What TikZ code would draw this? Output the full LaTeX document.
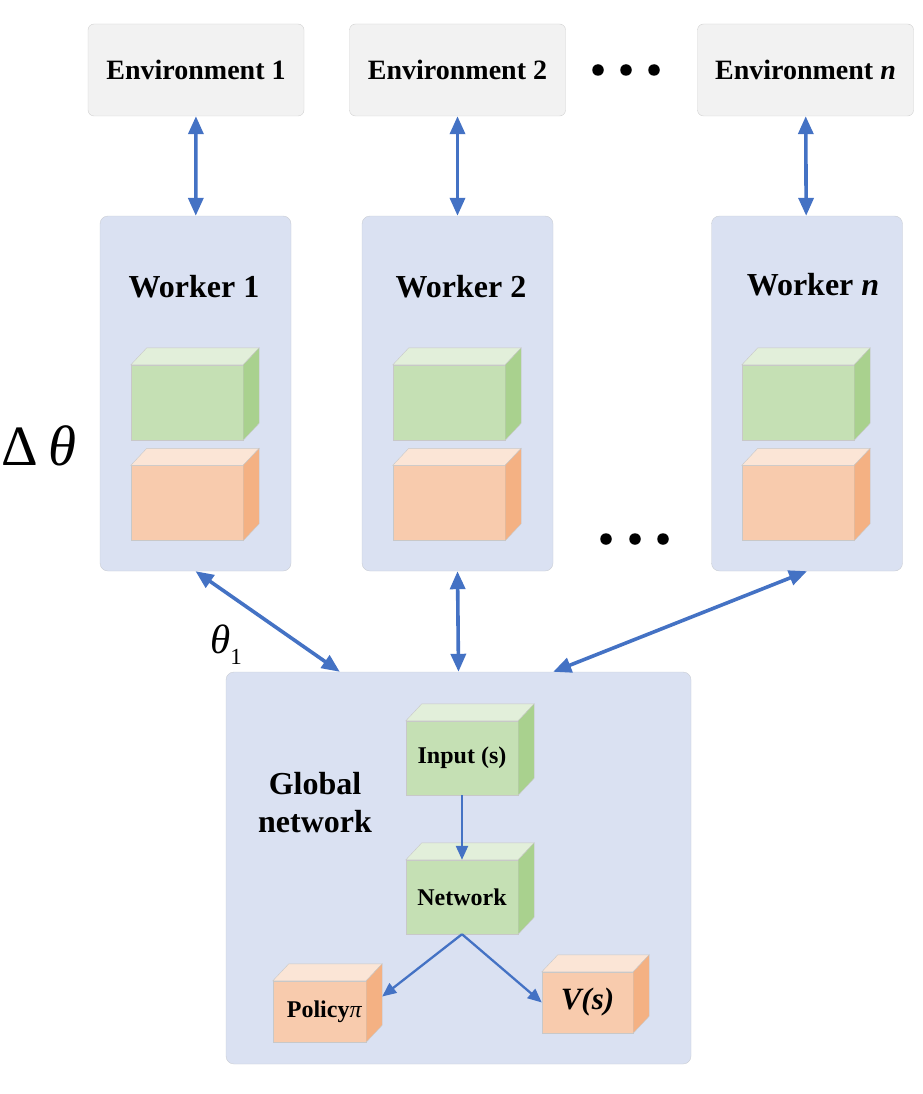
\documentclass[tikz,border=0pt]{standalone}
\usepackage{fontspec}
\setmainfont{Liberation Serif}
\usetikzlibrary{arrows.meta}
\definecolor{workblue}{HTML}{DAE1F2}
\definecolor{workedge}{HTML}{C9CDD4}
\definecolor{envgray}{HTML}{F2F2F2}
\definecolor{envedge}{HTML}{D0D0D0}
\definecolor{cubeedge}{HTML}{C8C8C8}
\definecolor{greenfront}{HTML}{C5E0B4}
\definecolor{greentop}{HTML}{E2EFDA}
\definecolor{greenside}{HTML}{A9D18E}
\definecolor{orangefront}{HTML}{F8CBAD}
\definecolor{orangetop}{HTML}{FBE5D6}
\definecolor{orangeside}{HTML}{F4B183}
\definecolor{arrowblue}{HTML}{4472C4}
\newcommand{\cubefaces}[3]{%
  \filldraw[draw=cubeedge, fill=#2] (#1.north west) -- ([shift={(16,-17)}]#1.north west)
    -- ([shift={(16,-17)}]#1.north east) -- (#1.north east) -- cycle;
  \filldraw[draw=cubeedge, fill=#3] (#1.north east) -- ([shift={(16,-17)}]#1.north east)
    -- ([shift={(16,-17)}]#1.south east) -- (#1.south east) -- cycle;
}
\begin{document}
\begin{tikzpicture}[x=1pt, y=-1pt,
  env/.style={draw=envedge, fill=envgray, rounded corners=6pt, minimum width=216pt, minimum height=92pt,
    font=\bfseries\fontsize{28}{32}\selectfont},
  worker/.style={draw=workedge, fill=workblue, rounded corners=8pt, minimum width=191pt, minimum height=355pt},
  title/.style={font=\bfseries\fontsize{32}{38}\selectfont, align=center},
  greencube/.style={draw=cubeedge, fill=greenfront, minimum width=112pt, minimum height=75pt, inner sep=0pt,
    font=\bfseries\fontsize{24}{28}\selectfont},
  orangecube/.style={draw=cubeedge, fill=orangefront, minimum width=112pt, minimum height=75pt, inner sep=0pt,
    font=\bfseries\fontsize{24}{28}\selectfont},
  dot/.style={circle, fill=black, inner sep=0pt, minimum size=11.5pt},
  link/.style={draw=arrowblue, line width=3.6pt, {Triangle[length=18pt,width=15pt]}-{Triangle[length=18pt,width=15pt]}},
  flow/.style={draw=arrowblue, line width=2.3pt, -{Triangle[length=14pt,width=12pt]}}]
  \useasboundingbox (0,0) rectangle (922,1094);

  \node[env] (env1) at (196,70) {Environment 1};
  \node[env] (env2) at (457.5,70) {Environment 2};
  \node[env] (envn) at (805.5,70) {Environment \textit{n}};
  \foreach \i/\x in {1/598,2/626,3/654} \node[dot] (topdot\i) at (\x,70) {};

  \node[worker] (w1) at (195.5,393.5) {};
  \node[worker] (w2) at (457.5,393.5) {};
  \node[worker] (wn) at (807,393.5) {};
  \node[title] (w1label) at (194,287) {Worker 1};
  \node[title] (w2label) at (461,287) {Worker 2};
  \node[title] (wnlabel) at (813,285) {Worker \textit{n}};
  \foreach \i/\x in {1/606,2/635,3/663} \node[dot] (middot\i) at (\x,539) {};

  \node[greencube] (g1) at (187,402.5) {};
  \node[orangecube] (o1) at (187,503) {};
  \node[greencube] (g2) at (449,402.5) {};
  \node[orangecube] (o2) at (449,503) {};
  \node[greencube] (gn) at (798,402.5) {};
  \node[orangecube] (on) at (798,503) {};
  \cubefaces{g1}{greentop}{greenside}
  \cubefaces{o1}{orangetop}{orangeside}
  \cubefaces{g2}{greentop}{greenside}
  \cubefaces{o2}{orangetop}{orangeside}
  \cubefaces{gn}{greentop}{greenside}
  \cubefaces{on}{orangetop}{orangeside}

  \node[font=\fontsize{57}{60}\selectfont] (delta) at (39,446) {Δ\,\textit{θ}};
  \node[font=\fontsize{41}{44}\selectfont, inner sep=0pt] (theta1) at (226,645)
    {\textit{θ}\raisebox{-11pt}{\fontsize{23}{23}\selectfont 1}};

  \node[worker, minimum width=465pt, minimum height=392pt] (glob) at (458.5,868) {};
  \node[title] (globlabel) at (315,803) {Global\\network};
  \node[greencube, minimum height=74pt] (input) at (462,758) {Input (s)};
  \node[greencube, minimum height=74pt] (net) at (462,897) {Network};
  \node[orangecube, minimum width=93pt, minimum height=61pt] (policy) at (319.5,1011.5)
    {\hspace{10pt}Policy\textmd{\textit{π}}};
  \node[orangecube, minimum width=91pt, minimum height=61pt, font=\bfseries\itshape\fontsize{31}{34}\selectfont]
    (value) at (587.5,1002.5) {V(s)};
  \cubefaces{input}{greentop}{greenside}
  \cubefaces{net}{greentop}{greenside}
  \cubefaces{policy}{orangetop}{orangeside}
  \cubefaces{value}{orangetop}{orangeside}

  \draw[link] (env1) -- (w1);
  \draw[link] (env2) -- (w2);
  \draw[link] (envn) -- (wn);
  \draw[link] (w1.south) -- ([xshift=114pt]glob.north west);
  \draw[link] (w2.south) -- (glob.north);
  \draw[link] (wn.south) -- ([xshift=-138pt]glob.north east);
  \draw[flow] (input) -- (net);
  \draw[flow] (net.south) -- ([shift={(16,-15)}]policy.east);
  \draw[flow] (net.south) -- (value.west);
\end{tikzpicture}
\end{document}
